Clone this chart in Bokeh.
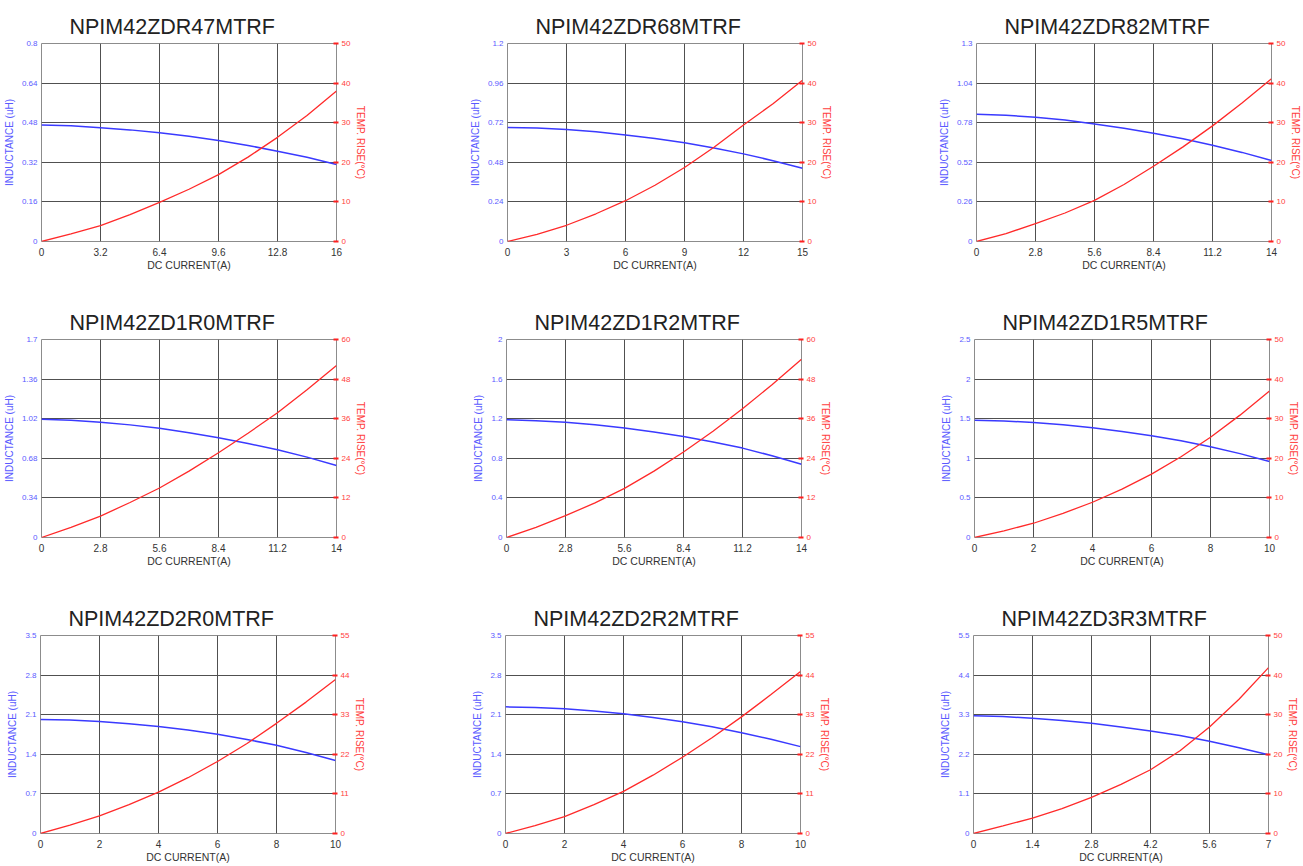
from bokeh.plotting import figure
from bokeh.models import LinearAxis, Range1d, FixedTicker
from bokeh.layouts import column, row
from bokeh.embed import file_html
from bokeh.resources import INLINE

# ---------------- data ----------------
titles = ["NPIM42ZDR47MTRF", "NPIM42ZDR68MTRF", "NPIM42ZDR82MTRF",
          "NPIM42ZD1R0MTRF", "NPIM42ZD1R2MTRF", "NPIM42ZD1R5MTRF",
          "NPIM42ZD2R0MTRF", "NPIM42ZD2R2MTRF", "NPIM42ZD3R3MTRF"]

# NPIM42ZDR47MTRF
cur_r47 = [0, 1.6, 3.2, 4.8, 6.4, 8.0, 9.6, 11.2, 12.8, 14.4, 16.0]
ind_r47 = [0.471, 0.468, 0.460, 0.451, 0.439, 0.425, 0.408, 0.388, 0.365, 0.340, 0.311]
tmp_r47 = [0, 1.9, 4.0, 6.8, 9.9, 13.2, 16.9, 21.3, 26.3, 31.8, 38.0]
xt_r47 = ["0", "3.2", "6.4", "9.6", "12.8", "16"]
lt_r47 = ["0", "0.16", "0.32", "0.48", "0.64", "0.8"]
tt_r47 = ["0", "10", "20", "30", "40", "50"]

# NPIM42ZDR68MTRF
cur_r68 = [0, 1.5, 3.0, 4.5, 6.0, 7.5, 9.0, 10.5, 12.0, 13.5, 15.0]
ind_r68 = [0.691, 0.688, 0.679, 0.665, 0.646, 0.624, 0.598, 0.567, 0.531, 0.490, 0.444]
tmp_r68 = [0, 1.8, 4.1, 7.0, 10.3, 14.2, 18.7, 23.8, 29.4, 34.8, 40.7]
xt_r68 = ["0", "3", "6", "9", "12", "15"]
lt_r68 = ["0", "0.24", "0.48", "0.72", "0.96", "1.2"]
tt_r68 = ["0", "10", "20", "30", "40", "50"]

# NPIM42ZDR82MTRF
cur_r82 = [0, 1.4, 2.8, 4.2, 5.6, 7.0, 8.4, 9.8, 11.2, 12.6, 14.0]
ind_r82 = [0.836, 0.829, 0.816, 0.797, 0.772, 0.744, 0.711, 0.674, 0.632, 0.585, 0.532]
tmp_r82 = [0, 2.0, 4.5, 7.2, 10.4, 14.4, 19.0, 23.9, 29.2, 35.0, 41.1]
xt_r82 = ["0", "2.8", "5.6", "8.4", "11.2", "14"]
lt_r82 = ["0", "0.26", "0.52", "0.78", "1.04", "1.3"]
tt_r82 = ["0", "10", "20", "30", "40", "50"]

# NPIM42ZD1R0MTRF
cur_1r0 = [0, 1.4, 2.8, 4.2, 5.6, 7.0, 8.4, 9.8, 11.2, 12.6, 14.0]
ind_1r0 = [1.015, 1.006, 0.990, 0.967, 0.938, 0.900, 0.856, 0.807, 0.753, 0.690, 0.619]
tmp_1r0 = [0, 3.1, 6.5, 10.6, 15.0, 20.1, 25.7, 31.6, 37.8, 44.8, 52.1]
xt_1r0 = ["0", "2.8", "5.6", "8.4", "11.2", "14"]
lt_1r0 = ["0", "0.34", "0.68", "1.02", "1.36", "1.7"]
tt_1r0 = ["0", "12", "24", "36", "48", "60"]

# NPIM42ZD1R2MTRF
cur_1r2 = [0, 1.4, 2.8, 4.2, 5.6, 7.0, 8.4, 9.8, 11.2, 12.6, 14.0]
ind_1r2 = [1.190, 1.180, 1.164, 1.138, 1.107, 1.066, 1.020, 0.965, 0.903, 0.826, 0.739]
tmp_1r2 = [0, 3.1, 6.6, 10.5, 14.9, 20.1, 25.9, 32.2, 39.0, 46.3, 54.0]
xt_1r2 = ["0", "2.8", "5.6", "8.4", "11.2", "14"]
lt_1r2 = ["0", "0.4", "0.8", "1.2", "1.6", "2"]
tt_1r2 = ["0", "12", "24", "36", "48", "60"]

# NPIM42ZD1R5MTRF
cur_1r5 = [0, 1, 2, 3, 4, 5, 6, 7, 8, 9, 10]
ind_1r5 = [1.480, 1.472, 1.453, 1.423, 1.386, 1.339, 1.286, 1.221, 1.147, 1.059, 0.959]
tmp_1r5 = [0, 1.7, 3.6, 6.1, 8.9, 12.2, 16.0, 20.4, 25.3, 30.9, 37.0]
xt_1r5 = ["0", "2", "4", "6", "8", "10"]
lt_1r5 = ["0", "0.5", "1", "1.5", "2", "2.5"]
tt_1r5 = ["0", "10", "20", "30", "40", "50"]

# NPIM42ZD2R0MTRF
cur_2r0 = [0, 1, 2, 3, 4, 5, 6, 7, 8, 9, 10]
ind_2r0 = [2.016, 2.005, 1.980, 1.940, 1.893, 1.828, 1.753, 1.662, 1.559, 1.432, 1.290]
tmp_2r0 = [0, 2.3, 4.9, 8.0, 11.5, 15.5, 20.0, 25.0, 30.6, 36.5, 42.8]
xt_2r0 = ["0", "2", "4", "6", "8", "10"]
lt_2r0 = ["0", "0.7", "1.4", "2.1", "2.8", "3.5"]
tt_2r0 = ["0", "11", "22", "33", "44", "55"]

# NPIM42ZD2R2MTRF
cur_2r2 = [0, 1, 2, 3, 4, 5, 6, 7, 8, 9, 10]
ind_2r2 = [2.239, 2.228, 2.204, 2.165, 2.116, 2.050, 1.975, 1.886, 1.782, 1.665, 1.536]
tmp_2r2 = [0, 2.2, 4.7, 8.0, 11.7, 16.2, 21.2, 26.6, 32.4, 38.6, 45.0]
xt_2r2 = ["0", "2", "4", "6", "8", "10"]
lt_2r2 = ["0", "0.7", "1.4", "2.1", "2.8", "3.5"]
tt_2r2 = ["0", "11", "22", "33", "44", "55"]

# NPIM42ZD3R3MTRF
cur_3r3 = [0, 0.7, 1.4, 2.1, 2.8, 3.5, 4.2, 4.9, 5.6, 6.3, 7.0]
ind_3r3 = [3.27, 3.25, 3.20, 3.14, 3.06, 2.96, 2.85, 2.72, 2.56, 2.38, 2.19]
tmp_3r3 = [0, 1.9, 3.9, 6.3, 9.1, 12.4, 16.1, 20.9, 26.9, 33.9, 41.9]
xt_3r3 = ["0", "1.4", "2.8", "4.2", "5.6", "7"]
lt_3r3 = ["0", "1.1", "2.2", "3.3", "4.4", "5.5"]
tt_3r3 = ["0", "10", "20", "30", "40", "50"]

x_label = "DC CURRENT(A)"
l_label = "INDUCTANCE (uH)"
t_label = "TEMP. RISE(°C)"

charts = [
    (cur_r47, ind_r47, tmp_r47, xt_r47, lt_r47, tt_r47),
    (cur_r68, ind_r68, tmp_r68, xt_r68, lt_r68, tt_r68),
    (cur_r82, ind_r82, tmp_r82, xt_r82, lt_r82, tt_r82),
    (cur_1r0, ind_1r0, tmp_1r0, xt_1r0, lt_1r0, tt_1r0),
    (cur_1r2, ind_1r2, tmp_1r2, xt_1r2, lt_1r2, tt_1r2),
    (cur_1r5, ind_1r5, tmp_1r5, xt_1r5, lt_1r5, tt_1r5),
    (cur_2r0, ind_2r0, tmp_2r0, xt_2r0, lt_2r0, tt_2r0),
    (cur_2r2, ind_2r2, tmp_2r2, xt_2r2, lt_2r2, tt_2r2),
    (cur_3r3, ind_3r3, tmp_3r3, xt_3r3, lt_3r3, tt_3r3),
]

# ---------------- styling ----------------
FONT = "Liberation Sans"
BLUE_LINE = "#3a3aff"
BLUE_TXT = "#5a5aff"
RED_LINE = "#ff2a2a"
RED_TXT = "#ff4040"
GRID = "#505050"

FRAME_W = 295
FRAME_H = 198
BORDER_L = 40
BORDER_R = [130, 133, 32]     # per column
BORDER_T = 43
BORDER_B = [55, 55, 31]       # per row


def make_chart(idx):
    cur, ind, tmp, xt, lt, tt = charts[idx]
    col = idx % 3
    rw = idx // 3
    xv = [float(s) for s in xt]
    lv = [float(s) for s in lt]
    tv = [float(s) for s in tt]

    p = figure(frame_width=FRAME_W, frame_height=FRAME_H,
               x_range=Range1d(xv[0], xv[-1]), y_range=Range1d(lv[0], lv[-1]),
               output_backend="svg", toolbar_location=None,
               min_border_left=BORDER_L, min_border_right=BORDER_R[col],
               min_border_top=BORDER_T, min_border_bottom=BORDER_B[rw],
               background_fill_color="white", border_fill_color="white")
    p.outline_line_color = "#8c8c8c"
    p.outline_line_width = 1

    p.title.text = titles[idx]
    p.title.text_font = FONT
    p.title.text_font_size = "21.5px"
    p.title.text_font_style = "normal"
    p.title.text_color = "#222222"
    p.title.align = "left"
    p.title.offset = 28
    p.title.vertical_align = "top"
    p.title.standoff = 6

    p.extra_y_ranges = {"temp": Range1d(tv[0], tv[-1])}

    # x axis
    xa = p.xaxis[0]
    xa.ticker = FixedTicker(ticks=xv, minor_ticks=[])
    xa.major_label_overrides = {v: s for v, s in zip(xv, xt)}
    xa.axis_line_color = None
    xa.major_tick_line_color = None
    xa.major_tick_in = 0
    xa.major_tick_out = 0
    xa.major_label_text_font = FONT
    xa.major_label_text_font_size = "10px"
    xa.major_label_text_color = "#333333"
    xa.major_label_standoff = 6
    xa.axis_label = x_label
    xa.axis_label_text_font = FONT
    xa.axis_label_text_font_size = "10.5px"
    xa.axis_label_text_font_style = "normal"
    xa.axis_label_text_color = "#333333"
    xa.axis_label_standoff = 0

    # left axis (inductance)
    ya = p.yaxis[0]
    ya.ticker = FixedTicker(ticks=lv, minor_ticks=[])
    ya.major_label_overrides = {v: s for v, s in zip(lv, lt)}
    ya.axis_line_color = None
    ya.major_tick_line_color = None
    ya.major_tick_in = 0
    ya.major_tick_out = 0
    ya.major_label_text_font = FONT
    ya.major_label_text_font_size = "8px"
    ya.major_label_text_color = BLUE_TXT
    ya.major_label_standoff = 4
    ya.axis_label = l_label
    ya.axis_label_text_font = FONT
    ya.axis_label_text_font_size = "10px"
    ya.axis_label_text_font_style = "normal"
    ya.axis_label_text_color = BLUE_TXT
    ya.axis_label_standoff = 4

    # right axis (temperature)
    ra = LinearAxis(y_range_name="temp")
    ra.ticker = FixedTicker(ticks=tv, minor_ticks=[])
    ra.major_label_overrides = {v: s for v, s in zip(tv, tt)}
    ra.axis_line_color = None
    ra.major_tick_line_color = "#ff2020"
    ra.major_tick_line_width = 2
    ra.major_tick_in = 3
    ra.major_tick_out = 2
    ra.major_label_text_font = FONT
    ra.major_label_text_font_size = "8px"
    ra.major_label_text_color = RED_TXT
    ra.major_label_standoff = 3
    ra.axis_label = t_label
    ra.axis_label_text_font = FONT
    ra.axis_label_text_font_size = "10px"
    ra.axis_label_text_font_style = "normal"
    ra.axis_label_text_color = RED_TXT
    ra.axis_label_standoff = 2
    p.add_layout(ra, "right")

    p.xgrid.ticker = FixedTicker(ticks=xv, minor_ticks=[])
    p.ygrid.ticker = FixedTicker(ticks=lv, minor_ticks=[])
    p.xgrid.grid_line_color = GRID
    p.ygrid.grid_line_color = GRID
    p.xgrid.grid_line_width = 1
    p.ygrid.grid_line_width = 1

    p.line(cur, ind, line_color=BLUE_LINE, line_width=1.5)
    p.line(cur, tmp, y_range_name="temp", line_color=RED_LINE, line_width=1.3)
    return p


figs = [make_chart(i) for i in range(9)]
layout = column(row(figs[0], figs[1], figs[2]),
                row(figs[3], figs[4], figs[5]),
                row(figs[6], figs[7], figs[8]))

open("out.html", "w").write(file_html(layout, INLINE))
